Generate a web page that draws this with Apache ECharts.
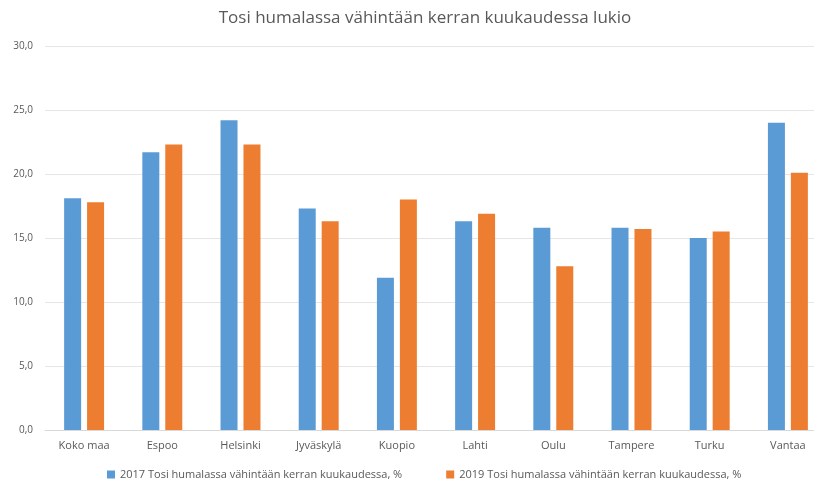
<!DOCTYPE html>
<html>
<head>
<meta charset="utf-8">
<script src="https://cdn.jsdelivr.net/npm/echarts@6/dist/echarts.min.js"></script>
<style>html,body{margin:0;padding:0;background:#fff;overflow:hidden;width:814px;height:485px}#c{width:840px;height:485px}</style>
</head>
<body>
<div id="c"></div>
<script>
const categories = ["Koko maa","Espoo","Helsinki","Jyväskylä","Kuopio","Lahti","Oulu","Tampere","Turku","Vantaa"];
const values2017 = [18.1, 21.7, 24.2, 17.3, 11.9, 16.3, 15.8, 15.8, 15.0, 24.0];
const values2019 = [17.8, 22.3, 22.3, 16.3, 18.0, 16.9, 12.8, 15.7, 15.5, 20.1];
const seriesNames = ["2017 Tosi humalassa vähintään kerran kuukaudessa, %","2019 Tosi humalassa vähintään kerran kuukaudessa, %"];
const titleText = "Tosi humalassa vähintään kerran kuukaudessa lukio";

const font = "'Open Sans', sans-serif";
const chart = echarts.init(document.getElementById('c'));
chart.setOption({
  animation: false,
  color: ['#5B9BD5', '#ED7D31'],
  title: {
    text: titleText, left: 420, top: 5, textAlign: 'center',
    textStyle: {fontFamily: font, fontSize: 17, fontWeight: 'normal', color: '#595959'}
  },
  legend: {
    left: 107, top: 469, padding: 0, icon: 'rect', itemWidth: 8, itemHeight: 8, itemGap: 44,
    textStyle: {fontFamily: font, fontSize: 11, color: '#595959'},
    data: seriesNames
  },
  grid: {left: 45, top: 46, width: 782, height: 384, containLabel: false},
  xAxis: {
    type: 'category', data: categories,
    axisTick: {show: false},
    axisLine: {lineStyle: {color: '#D9D9D9'}},
    axisLabel: {fontFamily: font, fontSize: 11, color: '#595959', margin: 10}
  },
  yAxis: {
    type: 'value', min: 0, max: 30, interval: 5,
    axisLine: {show: false}, axisTick: {show: false},
    splitLine: {lineStyle: {color: '#E6E6E6'}},
    axisLabel: {fontFamily: font, fontSize: 10, color: '#595959', margin: 12,
      formatter: v => v.toFixed(1).replace('.', ',')}
  },
  series: [
    {name: seriesNames[0], type: 'bar', data: values2017, barWidth: 17, barGap: '35%'},
    {name: seriesNames[1], type: 'bar', data: values2019, barWidth: 17, barGap: '35%'}
  ]
});
</script>
</body>
</html>
